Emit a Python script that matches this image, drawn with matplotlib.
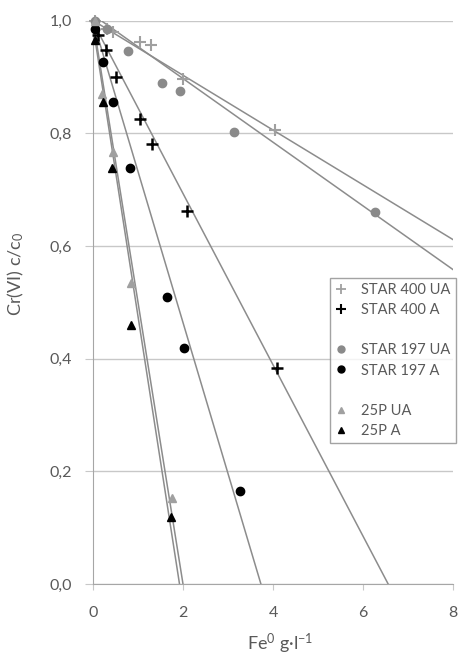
import matplotlib
matplotlib.use("Agg")
import matplotlib.pyplot as plt
from matplotlib.lines import Line2D

plt.rcParams['font.family'] = ['Lato', 'DejaVu Sans']
plt.rcParams['mathtext.fontset'] = 'custom'
plt.rcParams['mathtext.rm'] = 'Lato'
plt.rcParams['mathtext.it'] = 'Lato'

# Fe0 dose (g/l) vs relative Cr(VI) concentration
s400ua_x = [0.05, 0.3, 0.45, 1.04, 1.29, 2.0, 4.04]
s400ua_y = [1.0, 0.985, 0.98, 0.962, 0.957, 0.896, 0.806]
s400a_x = [0.1, 0.28, 0.52, 1.04, 1.31, 2.08, 4.09]
s400a_y = [0.975, 0.948, 0.9, 0.825, 0.78, 0.662, 0.383]
s197ua_x = [0.05, 0.3, 0.78, 1.53, 1.94, 3.13, 6.27]
s197ua_y = [1.0, 0.985, 0.946, 0.889, 0.875, 0.802, 0.66]
s197a_x = [0.05, 0.23, 0.45, 0.82, 1.64, 2.02, 3.27]
s197a_y = [0.985, 0.926, 0.855, 0.739, 0.509, 0.419, 0.165]
p25ua_x = [0.05, 0.2, 0.44, 0.85, 1.75]
p25ua_y = [1.0, 0.87, 0.767, 0.535, 0.153]
p25a_x = [0.05, 0.23, 0.43, 0.84, 1.73]
p25a_y = [0.965, 0.855, 0.738, 0.46, 0.119]

# linear trend lines (intercept, slope)
trend_b = [1.0, 0.997, 1.01, 1.0, 1.0, 0.99]
trend_m = [-0.0486, -0.152, -0.0565, -0.268, -0.5, -0.515]

labels = ["STAR 400 UA", "STAR 400 A", "STAR 197 UA", "STAR 197 A", "25P UA", "25P A"]

grey = "#595959"
line_c = "#8c8c8c"

fig = plt.figure(figsize=(4.58, 6.60), dpi=100)
ax = fig.add_axes([93/458, 1 - 584/660, 360/458, 563.5/660])

for b, m in zip(trend_b, trend_m):
    ax.axline((0, b), slope=m, color=line_c, lw=1.1, zorder=2)

kw = dict(linestyle="none", clip_on=False, zorder=3)
ax.plot(s400ua_x, s400ua_y, marker="+", ms=8, mew=1.5, color="#a0a0a0", **kw)
ax.plot(s400a_x, s400a_y, marker="+", ms=8, mew=1.8, color="black", **kw)
ax.plot(s197ua_x, s197ua_y, marker="o", ms=6, color="#8a8a8a", **kw)
ax.plot(s197a_x, s197a_y, marker="o", ms=6, color="black", **kw)
ax.plot(p25ua_x, p25ua_y, marker="^", ms=5.5, color="#a0a0a0", **kw)
ax.plot(p25a_x, p25a_y, marker="^", ms=5.5, color="black", **kw)

ax.set_xlim(0, 8)
ax.set_ylim(0, 1.0)
ax.set_xticks([0, 2, 4, 6, 8])
ax.set_yticks([0, 0.2, 0.4, 0.6, 0.8, 1.0])
ax.set_yticklabels(["0,0", "0,2", "0,4", "0,6", "0,8", "1,0"])
ax.grid(axis="y", color="#c8c8c8", lw=1)
ax.set_axisbelow(True)
for s in ["top", "right"]:
    ax.spines[s].set_visible(False)
for s in ["left", "bottom"]:
    ax.spines[s].set_color("#a6a6a6")
ax.tick_params(axis="y", length=6, color="#c8c8c8", pad=9, labelsize=11.5, labelcolor=grey)
ax.tick_params(axis="x", length=4, color="#c8c8c8", pad=12, labelsize=11.5, labelcolor=grey)

ax.set_xlabel("Fe$^0$ g·l$^{-1}$", fontsize=13, color=grey)
ax.xaxis.set_label_coords(0.52, -0.085)
ax.set_ylabel("Cr(VI) c/c$_0$", fontsize=13, color=grey)
ax.yaxis.set_label_coords(-0.185, 0.55)

blank = Line2D([], [], linestyle="none")
handles = [
    Line2D([], [], ls="none", marker="+", ms=7, mew=1.3, color="#a0a0a0"),
    Line2D([], [], ls="none", marker="+", ms=7, mew=1.5, color="black"),
    blank,
    Line2D([], [], ls="none", marker="o", ms=5, color="#8a8a8a"),
    Line2D([], [], ls="none", marker="o", ms=5, color="black"),
    blank,
    Line2D([], [], ls="none", marker="^", ms=5, color="#a0a0a0"),
    Line2D([], [], ls="none", marker="^", ms=5, color="black"),
]
leg_labels = [labels[0], labels[1], "", labels[2], labels[3], "", labels[4], labels[5]]
leg = fig.legend(handles, leg_labels, loc="upper left", bbox_to_anchor=(330/458, 1 - 278/660),
                 frameon=True, fancybox=False, fontsize=10.5, labelcolor=grey,
                 handlelength=0.8, handletextpad=1.0, labelspacing=0.42,
                 borderpad=0.35, borderaxespad=0)
leg.get_frame().set_edgecolor("#8c8c8c")
leg.get_frame().set_linewidth(1)

fig.savefig("out.png", dpi=100)
